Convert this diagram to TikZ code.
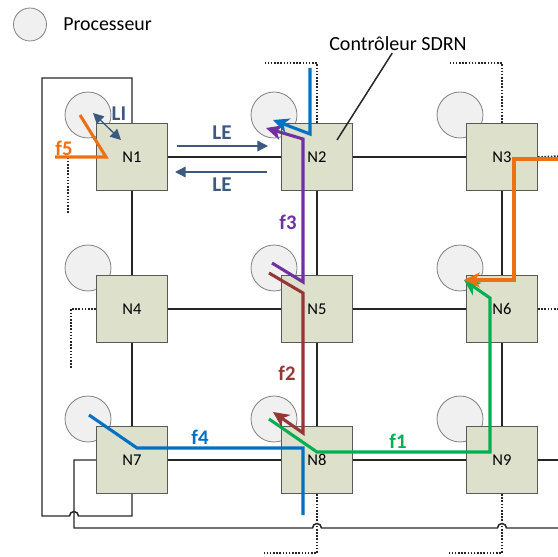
\documentclass[tikz,border=0pt]{standalone}
\usepackage{fontspec}
\setmainfont{Carlito}
\usepackage{tikz}
\usetikzlibrary{arrows.meta, positioning, calc}
\definecolor{nodefill}{HTML}{DDE0CB}
\definecolor{nodeline}{HTML}{595959}
\definecolor{procfill}{HTML}{F0F0F0}
\definecolor{procline}{HTML}{808080}
\definecolor{link}    {HTML}{3C5A80}
\definecolor{flowone} {HTML}{00B050}
\definecolor{flowtwo} {HTML}{953735}
\definecolor{flowthree}{HTML}{7030A0}
\definecolor{flowfour}{HTML}{0070C0}
\definecolor{flowfive}{HTML}{EE7014}

\begin{document}
\begin{tikzpicture}[
  x=0.02cm, y=-0.02cm,
  % Routers sit on top of their processor, so circles go first.
  router/.style={draw=nodeline, fill=nodefill, line width=0.75pt, minimum width=1.42cm,
                 minimum height=1.34cm, inner sep=0pt, font=\fontsize{9.4}{11}\selectfont},
  proc/.style={circle, draw=procline, fill=procfill, line width=0.45pt,
               minimum size=0.92cm, inner sep=0pt},
  wire/.style={line width=0.85pt, black!85},
  dotwire/.style={line width=0.85pt, black!85, dash pattern=on 0.9pt off 0.9pt},
  flow/.style={line width=1.75pt},
  flowarrow/.style={flow, -{Stealth[length=9pt, width=8.5pt, inset=2.6pt]}},
  linkarrow/.style={line width=0.75pt, color=link, -{Triangle[length=6pt, width=6pt]}},
  linklabel/.style={font=\fontsize{12}{14}\selectfont\bfseries, text=link},
  flabel/.style={font=\fontsize{11.8}{14}\selectfont\bfseries}
]
\useasboundingbox (0,0) rectangle (558,557);

% --- Legend ---
\node[proc, minimum size=0.66cm] (legend) at (30,24.5) {};
\node[anchor=west, font=\fontsize{11.3}{13}\selectfont, inner sep=0pt] (legendtext) at (63,24) {Processeur};

% --- Processors ---
\node[proc] (p1) at (88,115) {};
\node[proc] (p2) at (274,115) {};
\node[proc] (p3) at (460,115) {};
\node[proc] (p4) at (88,268) {};
\node[proc] (p5) at (274,268) {};
\node[proc] (p6) at (460,268) {};
\node[proc] (p7) at (88,419) {};
\node[proc] (p8) at (274,419) {};
\node[proc] (p9) at (460,419) {};

% --- Routers ---
\node[router] (n1) at (132,157) {N1};
\node[router] (n2) at (317,157) {N2};
\node[router] (n3) at (502,157) {N3};
\node[router] (n4) at (132,309) {N4};
\node[router] (n5) at (317,309) {N5};
\node[router] (n6) at (502,309) {N6};
\node[router] (n7) at (132,460) {N7};
\node[router] (n8) at (317,460) {N8};
\node[router] (n9) at (502,460) {N9};

% --- Mesh links ---
\draw[wire] (n1) -- (n2);
\draw[wire] (n2) -- (n3);
\draw[wire] (n4) -- (n5);
\draw[wire] (n5) -- (n6);
\draw[wire] (n7) -- (n8);
\draw[wire] (n8) -- (n9);
\draw[wire] (n1) -- (n4);
\draw[wire] (n4) -- (n7);
\draw[wire] (n2) -- (n5);
\draw[wire] (n5) -- (n8);
\draw[wire] (n3) -- (n6);
\draw[wire] (n6) -- (n9);
\draw[wire] (n9.east) -- (558,460);

% --- Wrap-around links ---
\draw[wire] (n1.north) -- (132,78) -- (42,78) -- (42,516) -- (69.5,516)
  arc[start angle=180, end angle=0, radius=2.55pt] -- (132,516) -- (n7.south);
\draw[wire] (n7.west) -- (74,460) -- (74,528) -- (312.5,528)
  arc[start angle=180, end angle=0, radius=2.55pt] -- (497.5,528)
  arc[start angle=180, end angle=0, radius=2.55pt] -- (558,528);

% --- Dotted links (cut) ---
\draw[dotwire] (n2.north) -- (317,63) -- (265,63);
\draw[dotwire] (n3.north) -- (502,63) -- (450,63);
\draw[dotwire] (n3.east) -- (558,156);
\draw[dotwire] (n6.east) -- (558,309);
\draw[dotwire] (n1.west) -- (68,157) -- (68,213);
\draw[dotwire] (n4.west) -- (71,309) -- (71,368);
\draw[dotwire] (n8.south) -- (317,553) -- (264,553);
\draw[dotwire] (n9.south) -- (502,553) -- (448,553);

% --- Controller callout ---
\node[font=\fontsize{11.4}{13}\selectfont, inner sep=1pt] (ctrl) at (398,44) {Contrôleur SDRN};
\coordinate (ctrltip) at (337,140);
\draw[wire] (ctrl) -- (ctrltip);

% --- Internal / external links ---
\draw[line width=0.75pt, color=link, {Triangle[length=6pt, width=6pt]}-{Triangle[length=6pt, width=6pt]}]
  (93,113) -- (121,140);
\node[linklabel] (li) at (119,114) {LI};
\draw[linkarrow] (177,146) -- (268,146);
\draw[linkarrow] (267,172) -- (175,172);
\node[linklabel] (le1) at (222,133) {LE};
\node[linklabel] (le2) at (222,185) {LE};

% --- Flows ---
\draw[flowarrow, flowone] (269,419) -- (317,452) -- (490,452) -- (490,298) -- (464,280);
\draw[flowarrow, flowtwo] (269,273) -- (303,293) -- (303,433) -- (273,412);
\draw[flowarrow, flowthree] (272,263) -- (303,282) -- (303,139) -- (266,128);
\draw[flow, flowfour] (89,415) -- (137,448) -- (303,448) -- (303,515);
\draw[flowarrow, flowfour] (310,68) -- (310,134) -- (273,120);
\draw[flow, flowfive] (80,115) -- (106,157) -- (55,157);
\draw[flowarrow, flowfive] (558,159) -- (514,159) -- (514,280) -- (464,280);

% --- Flow labels ---
\node[flabel, text=flowone] (f1) at (398,441) {f1};
\node[flabel, text=flowtwo] (f2) at (287,373) {f2};
\node[flabel, text=flowthree] (f3) at (288,222) {f3};
\node[flabel, text=flowfour] (f4) at (200,437) {f4};
\node[flabel, text=flowfive] (f5) at (64,148) {f5};

\end{tikzpicture}
\end{document}
